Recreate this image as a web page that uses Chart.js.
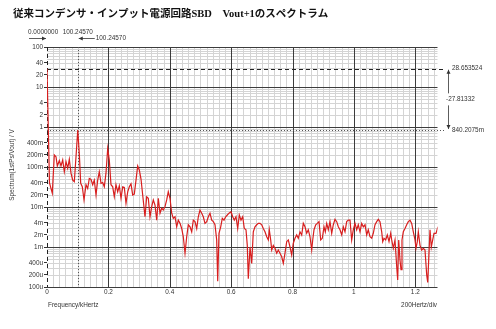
<!DOCTYPE html>
<html>
<head>
<meta charset="utf-8">
<script src="https://cdn.jsdelivr.net/npm/chart.js@4.4.0/dist/chart.umd.min.js"></script>
<style>
  html, body { margin: 0; padding: 0; background: #fff; }
  #wrap { width: 496px; height: 329px; }
</style>
</head>
<body>
<div id="wrap"><canvas id="spec" width="496" height="329"></canvas></div>
<script>
// FFT of Vout+1, frequency in kHz, amplitude in V
var freqKHz = [
  0, 0.0081, 0.0173, 0.0238, 0.0293, 0.0336, 0.0401, 0.0456, 0.0512, 0.0564,
  0.0619, 0.0674, 0.0727, 0.0782, 0.0837, 0.0890, 0.0945, 0.1002457, 0.1052, 0.1098,
  0.1150, 0.1206, 0.1271, 0.1326, 0.1378, 0.1434, 0.1489, 0.1541, 0.1597, 0.1652,
  0.1704, 0.1760, 0.1815, 0.1867, 0.1922, 0.1978, 0.2030, 0.2085, 0.2141, 0.2193,
  0.2248, 0.2304, 0.2356, 0.2411, 0.2467, 0.2519, 0.2574, 0.2630, 0.2682, 0.2737,
  0.2792, 0.2845, 0.2900, 0.2955, 0.3008, 0.3063, 0.3118, 0.3193, 0.3248, 0.3301,
  0.3356, 0.3412, 0.3464, 0.3519, 0.3575, 0.3627, 0.3682, 0.3737, 0.3790, 0.3845,
  0.3900, 0.3952, 0.4008, 0.4063, 0.4115, 0.4171, 0.4226, 0.4278, 0.4334, 0.4389,
  0.4441, 0.4497, 0.4552, 0.4604, 0.4660, 0.4715, 0.4767, 0.4822, 0.4878, 0.4930,
  0.4985, 0.5041, 0.5093, 0.5148, 0.5204, 0.5256, 0.5311, 0.5367, 0.5419, 0.5474,
  0.5529, 0.5562, 0.5604, 0.5660, 0.5712, 0.5767, 0.5823, 0.5875, 0.5930, 0.5995,
  0.6051, 0.6103, 0.6158, 0.6214, 0.6266, 0.6321, 0.6377, 0.6429, 0.6484, 0.6526,
  0.6559, 0.6615, 0.6670, 0.6722, 0.6777, 0.6833, 0.6885, 0.6940, 0.6996, 0.7048,
  0.7103, 0.7159, 0.7211, 0.7243, 0.7289, 0.7322, 0.7374, 0.7429, 0.7485, 0.7537,
  0.7592, 0.7648, 0.7700, 0.7755, 0.7810, 0.7862, 0.7918, 0.7973, 0.8025, 0.8081,
  0.8136, 0.8188, 0.8244, 0.8299, 0.8351, 0.8407, 0.8462, 0.8514, 0.8570, 0.8625,
  0.8658, 0.8700, 0.8756, 0.8807, 0.8863, 0.8918, 0.8970, 0.9026, 0.9068, 0.9114,
  0.9166, 0.9221, 0.9277, 0.9329, 0.9384, 0.9440, 0.9492, 0.9547, 0.9603, 0.9655,
  0.9710, 0.9765, 0.9818, 0.9873, 0.9928, 0.9981, 1.0036, 1.0091, 1.0143, 1.0199,
  1.0254, 1.0306, 1.0362, 1.0417, 1.0469, 1.0525, 1.0580, 1.0632, 1.0688, 1.0743,
  1.0795, 1.0850, 1.0906, 1.0939, 1.0981, 1.1036, 1.1088, 1.1144, 1.1199, 1.1232,
  1.1284, 1.1339, 1.1395, 1.1427, 1.1460, 1.1502, 1.1535, 1.1567, 1.1610, 1.1665,
  1.1720, 1.1773, 1.1828, 1.1883, 1.1936, 1.1991, 1.2024, 1.2066, 1.2099, 1.2154,
  1.2209, 1.2261, 1.2317, 1.2372, 1.2405, 1.2437, 1.2480, 1.2522, 1.2568, 1.2610,
  1.2675, 1.2740
];
var spectrumV = [
  28.653524, 0.040, 0.022, 0.20, 0.18, 0.106, 0.144, 0.106, 0.15, 0.076,
  0.136, 0.093, 0.156, 0.070, 0.047, 0.043, 0.18, 0.8402075, 0.22, 0.039,
  0.032, 0.015, 0.036, 0.029, 0.052, 0.049, 0.036, 0.047, 0.020, 0.047,
  0.076, 0.039, 0.041, 0.032, 0.070, 0.29, 0.15, 0.036, 0.032, 0.018,
  0.036, 0.024, 0.034, 0.0165, 0.032, 0.031, 0.0124, 0.024, 0.032, 0.038,
  0.020, 0.021, 0.047, 0.106, 0.084, 0.050, 0.020, 0.0057, 0.018, 0.0165,
  0.0057, 0.0102, 0.015, 0.0112, 0.0047, 0.0165, 0.0070, 0.0093, 0.0084, 0.0102,
  0.015, 0.024, 0.0165, 0.0070, 0.0052, 0.0057, 0.0032, 0.0047, 0.0039, 0.0029,
  0.0018, 0.0007, 0.0018, 0.0036, 0.0032, 0.0024, 0.0047, 0.0043, 0.0029, 0.0057,
  0.0084, 0.0070, 0.0057, 0.0039, 0.0043, 0.0057, 0.0070, 0.0047, 0.0043, 0.0036,
  0.0015, 0.00014, 0.0022, 0.0032, 0.0052, 0.0047, 0.0057, 0.0063, 0.0070, 0.0076,
  0.0057, 0.0047, 0.0057, 0.0029, 0.0063, 0.0047, 0.0057, 0.0029, 0.0027, 0.0011,
  0.00016, 0.0010, 0.00039, 0.0024, 0.0032, 0.0036, 0.0039, 0.0039, 0.0036, 0.0029,
  0.0024, 0.0018, 0.0015, 0.0027, 0.0015, 0.00084, 0.0011, 0.00093, 0.0007, 0.00084,
  0.0007, 0.00057, 0.00039, 0.0007, 0.00136, 0.0015, 0.0010, 0.00063, 0.00124, 0.00165,
  0.0020, 0.00165, 0.0024, 0.0020, 0.0039, 0.0032, 0.0022, 0.0027, 0.0018, 0.00084,
  0.0015, 0.0027, 0.0036, 0.0039, 0.0043, 0.0015, 0.00165, 0.0032, 0.0024, 0.0039,
  0.0027, 0.0043, 0.0022, 0.0036, 0.0049, 0.0043, 0.0032, 0.0027, 0.0020, 0.0032,
  0.0024, 0.0043, 0.0047, 0.0047, 0.0015, 0.0027, 0.0039, 0.0027, 0.0036, 0.0024,
  0.0039, 0.0032, 0.0036, 0.0020, 0.0027, 0.0018, 0.00165, 0.0022, 0.0036, 0.0043,
  0.0049, 0.0043, 0.0024, 0.00136, 0.00165, 0.0015, 0.0020, 0.00136, 0.0022, 0.0015,
  0.00093, 0.0015, 0.00032, 0.00015, 0.0015, 0.00047, 0.00027, 0.0015, 0.0024, 0.0029,
  0.0036, 0.0043, 0.0047, 0.0039, 0.0024, 0.0015, 0.00093, 0.00136, 0.0024, 0.0011,
  0.00084, 0.00093, 0.00084, 0.00020, 0.00013, 0.00047, 0.0027, 0.0010, 0.0015, 0.0022,
  0.0022, 0.0032
];

// labelled ticks
var xTickValues = [0, 0.2, 0.4, 0.6, 0.8, 1, 1.2];
var xTickLabels = ['0', '0.2', '0.4', '0.6', '0.8', '1', '1.2'];
var yTickValues = [100, 40, 20, 10, 4, 2, 1, 0.4, 0.2, 0.1, 0.04, 0.02, 0.01,
                   0.004, 0.002, 0.001, 0.0004, 0.0002, 0.0001];
var yTickLabels = ['100', '40', '20', '10', '4', '2', '1', '400m', '200m', '100m', '40m', '20m', '10m',
                   '4m', '2m', '1m', '400u', '200u', '100u'];

// the two cursors sit on data points
var cursorIdx = [0, 17];
var xMax = 1.2724;

var SMALL = '6.4px "Liberation Sans", Arial, sans-serif';
var MAJOR = '#3c3c3c', MINOR = '#d4d4d4';

function findLabel(vals, labels, v) {
  for (var i = 0; i < vals.length; i++) {
    if (Math.abs(vals[i] - v) < vals[i] * 1e-6 + 1e-9) return labels[i];
  }
  return '';
}
function isDecade(v) {
  var l = Math.log10(v);
  return Math.abs(l - Math.round(l)) < 1e-6;
}

function arrowHead(ctx, x, y, dx, dy) {
  ctx.beginPath();
  ctx.moveTo(x, y);
  ctx.lineTo(x - dx * 4 - dy * 2, y - dy * 4 - dx * 2);
  ctx.lineTo(x - dx * 4 + dy * 2, y - dy * 4 + dx * 2);
  ctx.closePath();
  ctx.fill();
}

// grid: all light lines first, then the dark division lines on top
var gridPlugin = {
  id: 'gridPlugin',
  beforeDatasetsDraw: function (chart) {
    var ctx = chart.ctx, a = chart.chartArea, x = chart.scales.x, y = chart.scales.y;
    var xs = x.ticks.filter(function (t) { return t.value > 1e-6; });
    var ys = y.ticks;
    function vline(t) { var p = Math.round(x.getPixelForValue(t.value)) + 0.5; ctx.moveTo(p, a.top); ctx.lineTo(p, a.bottom); }
    function hline(t) { var p = Math.round(y.getPixelForValue(t.value)) + 0.5; ctx.moveTo(a.left, p); ctx.lineTo(a.right, p); }
    ctx.save();
    ctx.lineWidth = 1;
    ctx.strokeStyle = MINOR;
    ctx.beginPath();
    xs.forEach(function (t) { if (!findLabel(xTickValues, xTickLabels, t.value)) vline(t); });
    ys.forEach(function (t) { if (!isDecade(t.value)) hline(t); });
    ctx.stroke();
    ctx.strokeStyle = MAJOR;
    ctx.beginPath();
    xs.forEach(function (t) { if (findLabel(xTickValues, xTickLabels, t.value)) vline(t); });
    ys.forEach(function (t) { if (isDecade(t.value)) hline(t); });
    ctx.stroke();
    ctx.restore();
  }
};

var overlay = {
  id: 'overlay',
  beforeDatasetsDraw: function (chart) {
    var ctx = chart.ctx, a = chart.chartArea, x = chart.scales.x, y = chart.scales.y;
    var xa = Math.round(x.getPixelForValue(freqKHz[cursorIdx[0]])) + 0.5;
    var ya = Math.round(y.getPixelForValue(spectrumV[cursorIdx[0]])) + 0.5;
    var xb = Math.round(x.getPixelForValue(freqKHz[cursorIdx[1]])) + 0.5;
    var yb = Math.round(y.getPixelForValue(spectrumV[cursorIdx[1]])) + 0.5;
    ctx.save();
    ctx.lineWidth = 1;
    // cursor 1: dashed
    ctx.strokeStyle = '#222';
    ctx.setLineDash([4, 3]);
    ctx.beginPath();
    ctx.moveTo(xa, a.top); ctx.lineTo(xa, a.bottom);
    ctx.moveTo(a.left, ya); ctx.lineTo(445, ya);
    ctx.stroke();
    // cursor 2: dotted
    ctx.setLineDash([1, 2]);
    ctx.strokeStyle = '#555';
    ctx.beginPath();
    ctx.moveTo(xb, a.top); ctx.lineTo(xb, a.bottom);
    ctx.moveTo(a.left, yb); ctx.lineTo(445, yb);
    ctx.stroke();
    ctx.restore();
  },
  afterDraw: function (chart) {
    var ctx = chart.ctx, x = chart.scales.x, y = chart.scales.y;
    var fA = freqKHz[cursorIdx[0]], fB = freqKHz[cursorIdx[1]];
    var vA = spectrumV[cursorIdx[0]], vB = spectrumV[cursorIdx[1]];
    var xa = x.getPixelForValue(fA), xb = x.getPixelForValue(fB);
    var ya = y.getPixelForValue(vA), yb = y.getPixelForValue(vB);
    ctx.save();

    // title
    ctx.fillStyle = '#111';
    ctx.textBaseline = 'middle';
    ctx.textAlign = 'left';
    ctx.font = 'bold 10.5px "Liberation Serif", "Noto Sans CJK JP", serif';
    ctx.fillText('従来コンデンサ・インプット電源回路SBD　Vout+1のスペクトラム', 13, 14);

    ctx.font = SMALL;
    ctx.fillStyle = '#333';
    ctx.strokeStyle = '#333';
    ctx.lineWidth = 0.8;

    // cursor frequencies (Hz)
    ctx.fillText((fA * 1000).toFixed(7), 28, 32);
    ctx.textAlign = 'center';
    ctx.fillText((fB * 1000).toFixed(5), xb, 32);
    ctx.textAlign = 'left';
    ctx.beginPath();
    ctx.moveTo(29, 38.5); ctx.lineTo(xa - 1, 38.5);
    ctx.moveTo(xb + 1, 38.5); ctx.lineTo(xb + 17, 38.5);
    ctx.stroke();
    arrowHead(ctx, xa - 1, 38.5, 1, 0);
    arrowHead(ctx, xb + 1, 38.5, -1, 0);
    ctx.fillText(((fB - fA) * 1000).toFixed(5), xb + 18, 38);

    // cursor levels
    ctx.fillText(vA.toPrecision(8), 452, ya);
    ctx.fillText((vB * 1000).toPrecision(7) + 'm', 452, yb);
    var mid = (ya + yb) / 2;
    ctx.fillText((vB - vA).toPrecision(7), 446, mid);
    ctx.beginPath();
    ctx.moveTo(448.5, ya + 1); ctx.lineTo(448.5, mid - 6);
    ctx.moveTo(448.5, mid + 6); ctx.lineTo(448.5, yb - 1);
    ctx.stroke();
    arrowHead(ctx, 448.5, ya + 1, 0, -1);
    arrowHead(ctx, 448.5, yb - 1, 0, 1);

    // axis names
    ctx.fillText('Frequency/kHertz', 48, 305);
    ctx.textAlign = 'right';
    ctx.fillText('200Hertz/div', 437, 305);
    ctx.save();
    ctx.translate(12, 165);
    ctx.rotate(-Math.PI / 2);
    ctx.textAlign = 'center';
    ctx.fillText('Spectrum(1stPs/Vout) / V', 0, 0);
    ctx.restore();

    ctx.restore();
  }
};

var points = freqKHz.map(function (f, i) { return { x: f, y: spectrumV[i] }; });

var ctx = document.getElementById('spec').getContext('2d');
var chart = new Chart(ctx, {
  type: 'line',
  data: {
    datasets: [{
      data: points,
      borderColor: '#d81e1e',
      borderWidth: 1.2,
      pointRadius: 0,
      tension: 0,
      fill: false
    }]
  },
  options: {
    responsive: false,
    animation: false,
    devicePixelRatio: 1,
    layout: { padding: { top: 47, right: 58.5, left: 0, bottom: 0 } },
    plugins: { legend: { display: false }, tooltip: { enabled: false } },
    scales: {
      x: {
        type: 'linear',
        min: 0,
        max: xMax,
        afterBuildTicks: function (s) {
          var t = [];
          for (var i = 0; i <= 63; i++) t.push({ value: i * 0.02 });
          s.ticks = t;
        },
        afterFit: function (s) { s.height = 42; },
        ticks: {
          autoSkip: false,
          maxRotation: 0,
          padding: 1,
          font: { family: '"Liberation Sans", Arial, sans-serif', size: 6.4 },
          color: '#333',
          callback: function (v) { return findLabel(xTickValues, xTickLabels, v); }
        },
        grid: { drawTicks: false, color: 'rgba(0,0,0,0)' },
        border: { display: false }
      },
      y: {
        type: 'logarithmic',
        min: 1e-4,
        max: 100,
        afterBuildTicks: function (s) {
          var t = [];
          for (var e = -4; e <= 1; e++) {
            for (var m = 1; m <= 9; m++) t.push({ value: m * Math.pow(10, e) });
          }
          t.push({ value: 100 });
          s.ticks = t;
        },
        afterFit: function (s) { s.width = 47; },
        ticks: {
          autoSkip: false,
          padding: 1,
          font: { family: '"Liberation Sans", Arial, sans-serif', size: 6.4 },
          color: '#333',
          callback: function (v) { return findLabel(yTickValues, yTickLabels, v); }
        },
        grid: {
          tickLength: 3,
          color: 'rgba(0,0,0,0)',
          tickColor: function (c) {
            if (!c.tick) return 'rgba(0,0,0,0)';
            return findLabel(yTickValues, yTickLabels, c.tick.value) ? '#333' : 'rgba(0,0,0,0)';
          }
        },
        border: { display: false }
      }
    }
  },
  plugins: [gridPlugin, overlay]
});
</script>
</body>
</html>
